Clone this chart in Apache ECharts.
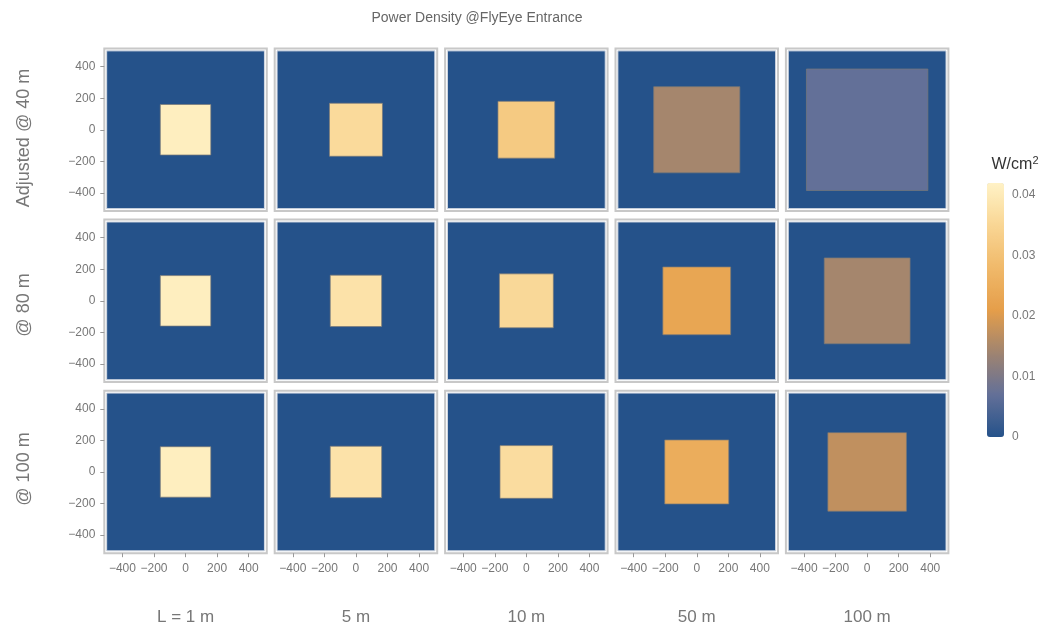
<!DOCTYPE html>
<html>
<head>
<meta charset="utf-8">
<script src="https://cdn.jsdelivr.net/npm/echarts@6/dist/echarts.min.js"></script>
<style>
html, body { margin: 0; padding: 0; background: #fff; }
#chart { width: 1050px; height: 627px; }
</style>
</head>
<body>
<div id="chart"></div>
<script>
var rowNames = ['Adjusted @ 40 m', '@ 80 m', '@ 100 m'];
var colNames = ['L = 1 m', '5 m', '10 m', '50 m', '100 m'];
// half side of the lit square at the entrance, one row per distance
var halfSide = [
  [160, 168, 180, 273, 385],
  [160, 163, 171, 215, 272],
  [160, 163, 167, 203, 249]
];
// power density inside the square (W/cm2)
var density = [
  [0.041, 0.036, 0.032, 0.0145, 0.007],
  [0.041, 0.038, 0.0355, 0.023, 0.0145],
  [0.041, 0.038, 0.0365, 0.025, 0.0172]
];
var apertureHalf = 500;
var axisTicks = [-400, -200, 0, 200, 400];
var barTicks = [0, 0.01, 0.02, 0.03, 0.04];
var barMax = 0.042;

var panelLeft = 104.3, panelTop = 48.5, panelSize = 162.5;
var stepX = 170.4, stepY = 171.1;
var axisHalf = 515;

function minusFmt(v) {
  return v < 0 ? '\u2212' + Math.abs(v) : String(v);
}

function drawRect(params, api) {
  var p0 = api.coord([api.value(0), api.value(3)]);
  var p1 = api.coord([api.value(2), api.value(1)]);
  return {
    type: 'rect',
    shape: { x: p0[0], y: p0[1], width: p1[0] - p0[0], height: p1[1] - p0[1] },
    style: {
      fill: api.visual('color'),
      stroke: params.dataIndex === 0 ? '#d3d9e2' : 'rgba(120,120,120,0.7)',
      lineWidth: 1
    }
  };
}

var grids = [], xAxes = [], yAxes = [], series = [], graphics = [], seriesIdx = [];

for (var r = 0; r < 3; r++) {
  for (var c = 0; c < 5; c++) {
    var k = grids.length;
    var h = halfSide[r][c];
    grids.push({
      left: panelLeft + c * stepX,
      top: panelTop + r * stepY,
      width: panelSize,
      height: panelSize,
      show: true,
      backgroundColor: '#fff',
      borderColor: '#c8c8c8',
      borderWidth: 2
    });
    xAxes.push({
      gridIndex: k, type: 'value', min: -axisHalf, max: axisHalf,
      axisLine: { show: false, onZero: false },
      splitLine: { show: false },
      axisTick: { show: r === 2, length: 4, customValues: axisTicks, lineStyle: { color: '#999' } },
      axisLabel: { show: r === 2, customValues: axisTicks, formatter: minusFmt, color: '#777', fontSize: 12, margin: 9 }
    });
    yAxes.push({
      gridIndex: k, type: 'value', min: -axisHalf, max: axisHalf,
      axisLine: { show: false, onZero: false },
      splitLine: { show: false },
      axisTick: { show: c === 0, length: 4, customValues: axisTicks, lineStyle: { color: '#999' } },
      axisLabel: { show: c === 0, customValues: axisTicks, formatter: minusFmt, color: '#777', fontSize: 12, margin: 9 }
    });
    seriesIdx.push(series.length);
    series.push({
      type: 'custom',
      xAxisIndex: k,
      yAxisIndex: k,
      encode: { x: [0, 2], y: [1, 3] },
      data: [
        [-apertureHalf, -apertureHalf, apertureHalf, apertureHalf, 0],
        [-h, -h, h, h, density[r][c]]
      ],
      renderItem: drawRect,
      silent: true
    });
  }
}

// colour bar axis
var barTop = 183, barHeight = 254;
var cb = grids.length;
grids.push({ left: 987, top: barTop, width: 17, height: barHeight, show: false });
xAxes.push({ gridIndex: cb, type: 'value', show: false });
yAxes.push({
  gridIndex: cb, type: 'value', min: 0, max: barMax, position: 'right',
  axisLine: { show: false, onZero: false },
  splitLine: { show: false },
  axisTick: { show: false },
  axisLabel: { customValues: barTicks, formatter: function (v) { return String(v); }, color: '#777', fontSize: 12, margin: 8 }
});

var rowCenters = [138, 305, 469];
rowNames.forEach(function (name, i) {
  graphics.push({
    type: 'text',
    x: 24,
    y: rowCenters[i],
    rotation: Math.PI / 2,
    style: { text: name, fill: '#777', font: '18px "Liberation Sans", Arial, sans-serif', textAlign: 'center', textVerticalAlign: 'middle', align: 'center', verticalAlign: 'middle' }
  });
});
colNames.forEach(function (name, i) {
  graphics.push({
    type: 'text',
    x: panelLeft + i * stepX + panelSize / 2,
    y: 617,
    style: { text: name, fill: '#777', font: '17px "Liberation Sans", Arial, sans-serif', textAlign: 'center', textVerticalAlign: 'middle', align: 'center', verticalAlign: 'middle' }
  });
});

var option = {
  backgroundColor: '#fff',
  animation: false,
  textStyle: { fontFamily: '"Liberation Sans", Arial, sans-serif' },
  title: [
    {
      text: 'Power Density @FlyEye Entrance',
      left: 472, top: 6, textAlign: 'center',
      textStyle: { fontSize: 14, fontWeight: 'normal', color: '#666' }
    },
    {
      text: '{a|W/cm}{s|2}',
      left: 1010, top: 150, textAlign: 'center',
      textStyle: {
        fontWeight: 'normal',
        rich: {
          a: { fontSize: 16, color: '#333', fontWeight: 'normal' },
          s: { fontSize: 11, color: '#333', fontWeight: 'normal', padding: [0, 0, 9, 0] }
        }
      }
    }
  ],
  visualMap: {
    type: 'continuous',
    min: 0,
    max: barMax,
    dimension: 4,
    seriesIndex: seriesIdx,
    calculable: false,
    orient: 'vertical',
    left: 987,
    top: barTop,
    itemWidth: 17,
    itemHeight: barHeight,
    padding: 0,
    inRange: { color: ['#25528a', '#637098', '#a08470', '#e59e4a', '#f0b96a', '#f9d694', '#fff2c6'] }
  },
  grid: grids,
  xAxis: xAxes,
  yAxis: yAxes,
  series: series,
  graphic: graphics
};

var myChart = echarts.init(document.getElementById('chart'));
myChart.setOption(option);
</script>
</body>
</html>
